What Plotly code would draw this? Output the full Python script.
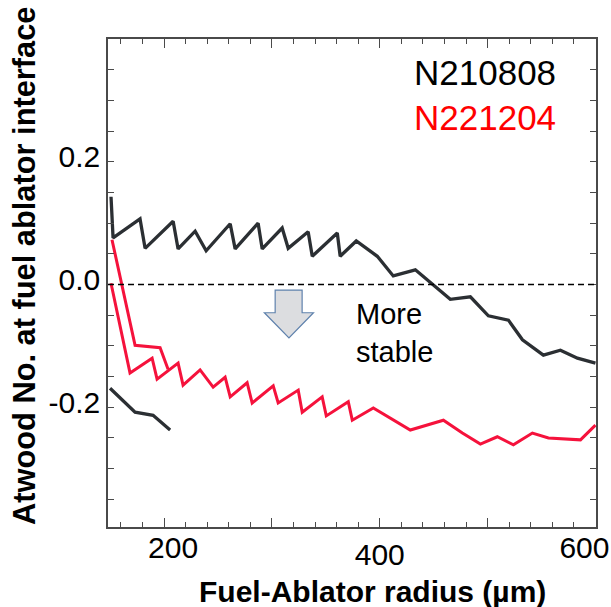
import plotly.graph_objects as go

# Atwood number at the fuel/ablator interface vs fuel-ablator radius (µm)
n210808_r = [150.8, 152.7, 177.7, 182.4, 208.4, 213.0, 228.8, 239.0, 261.3, 265.9,
             287.2, 291.0, 309.5, 315.1, 333.6, 337.4, 360.6, 363.3, 378.2, 397.7,
             412.5, 433.0, 465.4, 484.0, 500.7, 519.3, 532.3, 551.7, 567.5, 583.3, 600.0]
n210808_at = [0.143, 0.076, 0.107, 0.059, 0.103, 0.058, 0.087, 0.055, 0.099, 0.058,
              0.100, 0.058, 0.092, 0.059, 0.086, 0.046, 0.084, 0.046, 0.071, 0.046,
              0.014, 0.024, -0.024, -0.020, -0.051, -0.058, -0.090, -0.115, -0.107, -0.120, -0.128]

# short early-time segment of N210808
n210808_early_r = [149.9, 173.1, 189.8, 205.6]
n210808_early_at = [-0.169, -0.208, -0.213, -0.237]

n221204_r = [150.8, 168.4, 188.9, 193.5, 213.0, 217.6, 233.4, 245.5, 256.6, 261.3,
             277.0, 281.7, 301.2, 305.8, 324.4, 328.1, 346.6, 350.4, 370.8, 374.5,
             394.0, 428.3, 459.0, 476.6, 493.3, 509.0, 523.9, 541.5, 556.4, 586.1, 600.0]
n221204_at = [0.002, -0.144, -0.120, -0.154, -0.128, -0.164, -0.139, -0.167, -0.151, -0.183,
              -0.160, -0.193, -0.165, -0.193, -0.172, -0.208, -0.183, -0.214, -0.191, -0.221,
              -0.201, -0.237, -0.221, -0.242, -0.260, -0.248, -0.261, -0.242, -0.250, -0.253, -0.229]

# second branch of N221204 near the start
n221204_branch_r = [151.7, 173.1, 196.3, 203.7]
n221204_branch_at = [0.073, -0.099, -0.103, -0.138]

x_major_ticks = [200, 300, 400, 500, 600]
x_labels = {200: "200", 400: "400", 600: "600"}
y_tickvals = [-0.2, 0.0, 0.2]
y_ticktext = ["-0.2", "0.0", "0.2"]

W, H = 611, 607
L, R, T, B = 108, 15, 39, 80
PW, PH = W - L - R, H - T - B
X_RANGE = [148, 600.5]
Y_RANGE = [-0.395, 0.40]

BLACK = "#2b2f33"
RED = "#f5123c"
AXIS = "#4a4a4a"
FONT = "Liberation Sans, Arial, sans-serif"
TICK_FONT = dict(size=30, color="black", family=FONT)


def px(xp):
    return (xp - L) / PW


def py(yp):
    return (H - B - yp) / PH


fig = go.Figure()
fig.add_trace(go.Scatter(x=n210808_r, y=n210808_at, mode="lines",
                         line=dict(color=BLACK, width=3.3), showlegend=False))
fig.add_trace(go.Scatter(x=n210808_early_r, y=n210808_early_at, mode="lines",
                         line=dict(color=BLACK, width=3.3), showlegend=False))
fig.add_trace(go.Scatter(x=n221204_r, y=n221204_at, mode="lines",
                         line=dict(color=RED, width=3.0), showlegend=False))
fig.add_trace(go.Scatter(x=n221204_branch_r, y=n221204_branch_at, mode="lines",
                         line=dict(color=RED, width=3.0), showlegend=False))

# zero reference line
fig.add_shape(type="line", xref="paper", yref="y", x0=0, x1=1, y0=0, y1=0,
              line=dict(color="black", width=1.6, dash="6px,4px"))

# down arrow marking the more stable direction
arrow_path = ("M 303,-0.009 L 328,-0.009 L 328,-0.046 L 338.5,-0.046 "
              "L 315.8,-0.087 L 293,-0.046 L 303,-0.046 Z")
fig.add_shape(type="path", xref="x", yref="y", path=arrow_path,
              fillcolor="#dcdde0", line=dict(color="#5f82ad", width=1.2))

annotations = [
    dict(text="N210808", x=px(412), y=py(72), xanchor="left", yanchor="middle",
         font=dict(size=35, color="black", family=FONT)),
    dict(text="N221204", x=px(412), y=py(117), xanchor="left", yanchor="middle",
         font=dict(size=35, color="#ff0000", family=FONT)),
    dict(text="More<br>stable", x=px(354), y=py(333), xanchor="left", yanchor="middle",
         align="left", font=dict(size=29, color="black", family=FONT)),
    dict(text="<b>Fuel-Ablator radius (µm)</b>", x=px(372), y=py(591),
         xanchor="center", yanchor="middle",
         font=dict(size=30, color="black", family=FONT)),
    dict(text="<b>Atwood No. at fuel ablator interface</b>", x=px(24), y=py(266),
         xanchor="center", yanchor="middle", textangle=-90,
         font=dict(size=30.8, color="black", family=FONT)),
]
for a in annotations:
    a.update(xref="paper", yref="paper", showarrow=False)
fig.update_layout(annotations=annotations)

axis_common = dict(showgrid=False, zeroline=False, showline=True, linecolor=AXIS,
                   linewidth=1.5, mirror="allticks", ticks="inside", tickcolor=AXIS,
                   tickwidth=1.2, tickfont=TICK_FONT)

# main x axis: all ticks, label only at 400
fig.update_xaxes(range=X_RANGE, tickmode="array", tickvals=x_major_ticks,
                 ticktext=[x_labels[v] if v == 400 else "" for v in x_major_ticks],
                 ticklen=9,
                 minor=dict(dtick=20, ticks="inside", ticklen=5, tickcolor=AXIS,
                            tickwidth=1.2), **axis_common)

# labels for 200 and 600 sit on overlay axes so each can be nudged on its own
label_axes = {"x2": (200, 9), "x3": (600, -11)}
for ax, (val, shift) in label_axes.items():
    # empty carrier trace so the overlay axis is drawn
    fig.add_trace(go.Scatter(x=[None], y=[None], xaxis=ax, yaxis="y", mode="lines",
                             showlegend=False, hoverinfo="skip"))
    fig.update_layout(**{"xaxis" + ax[1:]: dict(
        overlaying="x", anchor="y", side="bottom", range=X_RANGE,
        showline=False, showgrid=False, zeroline=False, ticks="",
        tickmode="array", tickvals=[val], ticktext=[x_labels[val]],
        ticklabelshift=shift, ticklabeloverflow="allow", tickfont=TICK_FONT)})

fig.update_yaxes(range=Y_RANGE, tickmode="array", tickvals=y_tickvals,
                 ticktext=y_ticktext, ticklen=6, ticklabelshift=-5,
                 minor=dict(dtick=0.05, tick0=0, ticks="inside", ticklen=5,
                            tickcolor=AXIS, tickwidth=1.2), **axis_common)

fig.update_layout(width=W, height=H, margin=dict(l=L, r=R, t=T, b=B, autoexpand=False),
                  plot_bgcolor="white", paper_bgcolor="white", showlegend=False)

fig.write_html("out.html")
